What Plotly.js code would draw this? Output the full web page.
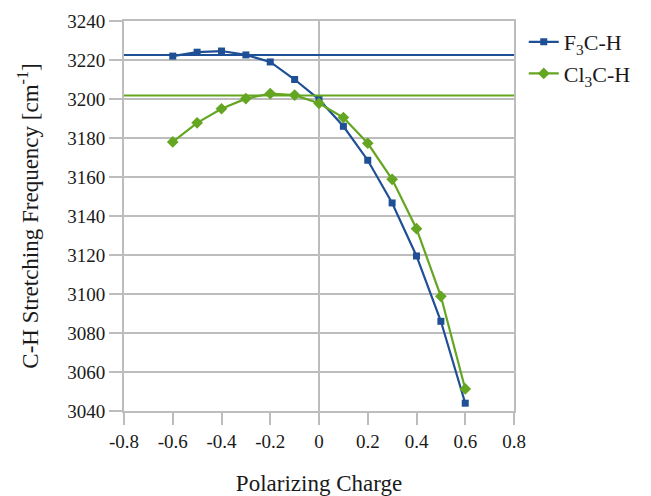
<!DOCTYPE html>
<html>
<head>
<meta charset="utf-8">
<script src="https://cdn.plot.ly/plotly-3.0.1.min.js"></script>
<style>html,body{margin:0;padding:0;background:#fff}#chart{width:651px;height:496px}</style>
</head>
<body>
<div id="chart"></div>
<script>
const charges = [-0.6, -0.5, -0.4, -0.3, -0.2, -0.1, 0, 0.1, 0.2, 0.3, 0.4, 0.5, 0.6];
const f3chFreq = [3222, 3224, 3224.6, 3222.6, 3219, 3210, 3199.8, 3186, 3168.6, 3146.7, 3119.5, 3086, 3044];
const cl3chFreq = [3178, 3187.8, 3195, 3200.2, 3202.8, 3202, 3197.8, 3190.5, 3177.3, 3158.8, 3133.5, 3098.8, 3051.3];
const referenceLevels = [3222.6, 3201.8]; // F3C-H, Cl3C-H free-molecule frequencies
const seriesNames = ["F<sub>3</sub>C-H", "Cl<sub>3</sub>C-H"];
const xTicks = [-0.8, -0.6, -0.4, -0.2, 0, 0.2, 0.4, 0.6, 0.8];
const yTicks = [3040, 3060, 3080, 3100, 3120, 3140, 3160, 3180, 3200, 3220, 3240];

const blue = '#1f4f95';
const green = '#64a622';
const grid = '#bdbdbd';
const font = 'Liberation Serif';

const traces = [
  {x: charges, y: f3chFreq, name: seriesNames[0], type: 'scatter', mode: 'lines+markers',
   line: {color: blue, width: 2.2}, marker: {symbol: 'square', size: 7, color: blue}},
  {x: charges, y: cl3chFreq, name: seriesNames[1], type: 'scatter', mode: 'lines+markers',
   line: {color: green, width: 2.2}, marker: {symbol: 'diamond', size: 9, color: green}}
];

const layout = {
  width: 651, height: 496,
  margin: {l: 124, r: 137, t: 21, b: 85, autoexpand: false},
  paper_bgcolor: '#fff', plot_bgcolor: '#fff',
  font: {family: font, size: 19, color: '#1a1a1a'},
  showlegend: true,
  legend: {x: 1.025, xanchor: 'left', y: 1.0, yanchor: 'top', font: {size: 22, family: font, color: '#1a1a1a'},
           itemwidth: 30, tracegroupgap: 4, bgcolor: 'rgba(0,0,0,0)'},
  xaxis: {
    range: [-0.8, 0.8], tickvals: xTicks, ticktext: xTicks.map(v => String(v)),
    automargin: false,
    showgrid: false, zeroline: true, zerolinecolor: grid, zerolinewidth: 2,
    showline: true, linecolor: grid, linewidth: 2, mirror: true,
    ticks: 'outside', ticklen: 12, tickwidth: 2, tickcolor: grid,
    tickfont: {size: 19, family: font, color: '#1a1a1a'},
    title: {text: 'Polarizing Charge', font: {size: 23, family: font, color: '#1a1a1a'}, standoff: 27}
  },
  yaxis: {
    range: [3040, 3240], tickvals: yTicks, ticktext: yTicks.map(v => String(v)),
    automargin: false,
    showgrid: true, gridcolor: grid, gridwidth: 2,
    zeroline: false,
    showline: true, linecolor: grid, linewidth: 2, mirror: true,
    ticks: 'outside', ticklen: 13, tickwidth: 2, tickcolor: grid,
    tickfont: {size: 19, family: font, color: '#1a1a1a'},
    title: {text: 'C-H Stretching Frequency [cm<sup>-1</sup>]', font: {size: 23, family: font, color: '#1a1a1a'}, standoff: 22}
  },
  shapes: referenceLevels.map((v, i) => ({
    type: 'line', xref: 'paper', x0: 0, x1: 1, yref: 'y', y0: v, y1: v,
    line: {color: i === 0 ? blue : green, width: 2}, layer: 'above'
  }))
};

Plotly.newPlot('chart', traces, layout, {displayModeBar: false, staticPlot: true});
</script>
</body>
</html>
